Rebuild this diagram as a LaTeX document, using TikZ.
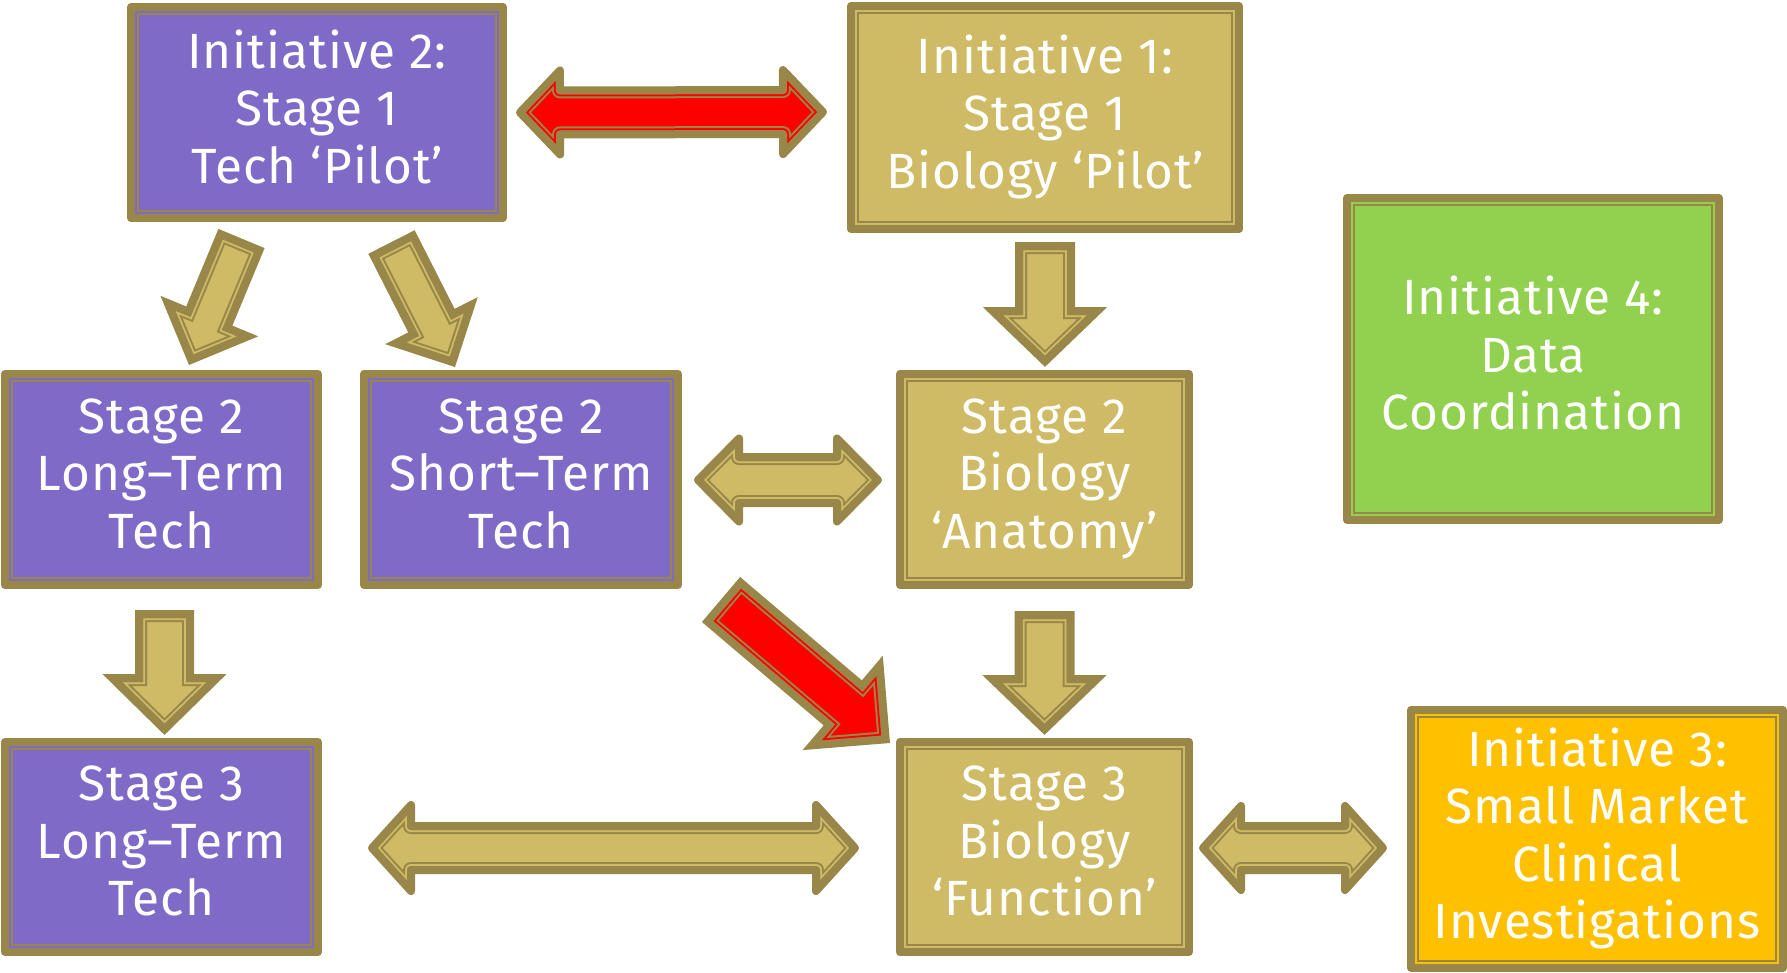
\documentclass[tikz,border=0pt]{standalone}
\usepackage{fontspec}
\IfFontExistsTF{Fira Sans Book}{\setmainfont{Fira Sans Book}[LetterSpace=2]}{\setmainfont{Fira Sans}[LetterSpace=2]}
\usetikzlibrary{calc}
\definecolor{cOlive}{HTML}{988748}
\definecolor{cTan}{HTML}{CFBA66}
\definecolor{cPurple}{HTML}{7F6BC7}
\definecolor{cGreen}{HTML}{92D050}
\definecolor{cOrange}{HTML}{FFC000}
\definecolor{cRed}{HTML}{FF0000}
\newdimen\arrAx \newdimen\arrAy \newdimen\arrBx \newdimen\arrBy
\def\sgloff{9.7}
\def\dbloff{4}
\newcommand\sglpath{(4,-\aw) -- ({\arrL-\aH+4},-\aw) -- ({\arrL-\aH+4},-\ah) -- ({\arrL-5.66},0) -- ({\arrL-\aH+4},\ah) -- ({\arrL-\aH+4},\aw) -- (4,\aw) -- cycle}
\newcommand\dblpath{(4,0) -- ({\aH-4},-\ah) -- ({\aH-4},-\aw) -- ({\arrL-\aH+4},-\aw) -- ({\arrL-\aH+4},-\ah) -- ({\arrL-4},0) -- ({\arrL-\aH+4},\ah) -- ({\arrL-\aH+4},\aw) -- ({\aH-4},\aw) -- ({\aH-4},\ah) -- cycle}
\newcommand\blockarrow[8]{%
  \coordinate (arrA) at #1;
  \coordinate (arrB) at #2;
  \pgfextractx{\arrAx}{\pgfpointanchor{arrA}{center}}%
  \pgfextracty{\arrAy}{\pgfpointanchor{arrA}{center}}%
  \pgfextractx{\arrBx}{\pgfpointanchor{arrB}{center}}%
  \pgfextracty{\arrBy}{\pgfpointanchor{arrB}{center}}%
  \pgfmathsetmacro\arrL{veclen(\arrBx-\arrAx,\arrBy-\arrAy)}%
  \pgfmathsetmacro\arrang{atan2(\arrBy-\arrAy,\arrBx-\arrAx)}%
  \pgfmathsetmacro\aw{#4-4}%
  \edef\aoff{\csname #7off\endcsname}%
  \pgfmathsetmacro\ah{#5-\aoff}%
  \def\aH{#6}%
  \expandafter\let\expandafter\apath\csname #7path\endcsname
  \begin{scope}[shift={(\the\arrAx,\the\arrAy)}, rotate=\arrang, x=1pt, y=1pt, line join=#8]
    \fill[#3] \apath;
    \begin{scope}
      \clip \apath;
      \draw[cOlive, line width=16pt] \apath;
      \draw[#3, line width=12pt] \apath;
      \draw[cOlive, line width=8pt] \apath;
    \end{scope}
    \draw[cOlive, line width=8pt] \apath;
  \end{scope}}
\tikzset{
  fancybox/.style={rectangle, inner sep=0pt, outer sep=0pt, fill=#1, draw=cOlive,
    line width=8pt, line join=round, text=white, align=center,
    font=\fontsize{49.5}{57.5}\selectfont,
    execute at end node={\rule[-12pt]{0pt}{12pt}},
    path picture={
      \draw[cOlive, line width=16pt] (path picture bounding box.north west) rectangle (path picture bounding box.south east);
      \draw[#1, line width=12pt] (path picture bounding box.north west) rectangle (path picture bounding box.south east);
      \draw[cOlive, line width=8pt] (path picture bounding box.north west) rectangle (path picture bounding box.south east);
    }},
}
\begin{document}
\begin{tikzpicture}[x=1pt, y=-1pt]
\useasboundingbox (0,0) rectangle (1787,972);
\node[fancybox=cPurple, minimum width=372pt, minimum height=211pt] (i2) at (317,112.5) {Initiative 2:\\Stage 1\\Tech ‘Pilot’};
\node[fancybox=cTan, minimum width=388pt, minimum height=223pt] (i1) at (1045,117.5) {Initiative 1:\\Stage 1\\Biology ‘Pilot’};
\node[fancybox=cGreen, minimum width=372pt, minimum height=322pt] (i4) at (1533,359) {Initiative 4:\\Data\\Coordination};
\node[fancybox=cPurple, minimum width=313pt, minimum height=211pt] (s2lt) at (161.5,479.5) {Stage 2\\Long–Term\\Tech};
\node[fancybox=cPurple, minimum width=314pt, minimum height=211pt] (s2st) at (521,479.5) {Stage 2\\Short–Term\\Tech};
\node[fancybox=cTan, minimum width=289pt, minimum height=211pt] (s2bio) at (1044.5,479.5) {Stage 2\\Biology\\‘Anatomy’};
\node[fancybox=cPurple, minimum width=313pt, minimum height=210pt] (s3lt) at (161.5,847) {Stage 3\\Long–Term\\Tech};
\node[fancybox=cTan, minimum width=289pt, minimum height=210pt] (s3bio) at (1044.5,847) {Stage 3\\Biology\\‘Function’};
\node[fancybox=cOrange, minimum width=372pt, minimum height=258pt] (i3) at (1597,839) {Initiative 3:\\Small Market\\Clinical\\Investigations};

\blockarrow{($(i2.east)+(13,0)$)}{($(i1.west)+(-24,-5.5)$)}{cRed}{26}{46}{48}{dbl}{round}
\blockarrow{($(i2.south)+(-75.5,20.5)$)}{($(s2lt.north)+(27.5,-9)$)}{cTan}{25}{53}{53}{sgl}{miter}
\blockarrow{($(i2.south)+(74.5,24)$)}{($(s2st.north)+(-66,-7)$)}{cTan}{26}{52}{52}{sgl}{miter}
\blockarrow{($(i1.south)+(0,13)$)}{($(s2bio.north)+(0.5,-7)$)}{cTan}{30}{62}{60}{sgl}{miter}
\blockarrow{($(s2st.east)+(16,0.5)$)}{($(s2bio.west)+(-18,0.5)$)}{cTan}{27}{45.5}{49}{dbl}{round}
\blockarrow{($(s2lt.south)+(3,25)$)}{($(s3lt.north)+(3,-7)$)}{cTan}{29.5}{62}{61}{sgl}{miter}
\blockarrow{($(s2st.south east)+(43,14.5)$)}{($(s3bio.north west)+(-10,1)$)}{cRed}{29.5}{62}{62}{sgl}{miter}
\blockarrow{($(s2bio.south)+(0,26)$)}{($(s3bio.north)+(0,-7)$)}{cTan}{30}{62}{60}{sgl}{miter}
\blockarrow{($(s3lt.east)+(50,1)$)}{($(s3bio.west)+(-41,1)$)}{cTan}{26}{47}{47}{dbl}{round}
\blockarrow{($(s3bio.east)+(10,1)$)}{($(i3.west)+(-24,9)$)}{cTan}{26}{46}{46}{dbl}{round}
\end{tikzpicture}
\end{document}
